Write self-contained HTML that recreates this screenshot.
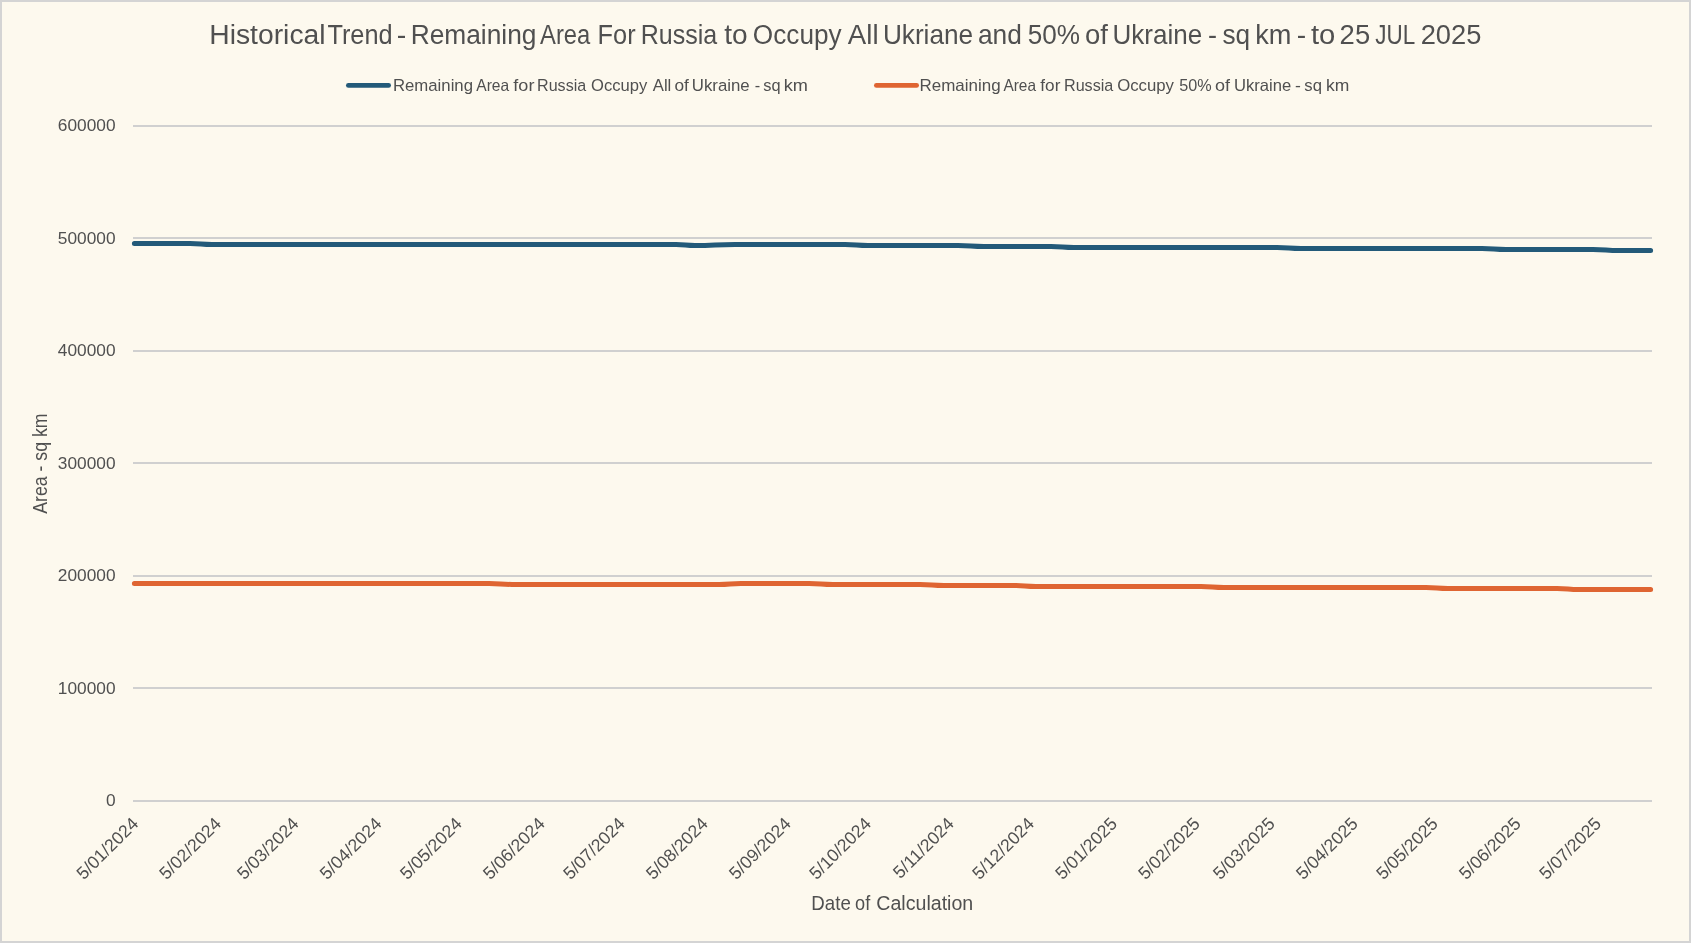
<!DOCTYPE html>
<html><head><meta charset="utf-8"><style>
html,body{margin:0;padding:0;width:1691px;height:943px;overflow:hidden;background:#D4D4D4;}
svg{display:block;will-change:transform;font-family:"Liberation Sans",sans-serif;}
</style></head><body>
<svg width="1691" height="943" viewBox="0 0 1691 943">
<rect x="0" y="0" width="1691" height="943" fill="#D4D4D4"/>
<rect x="2" y="2" width="1687" height="939" fill="#FDF9EE"/>
<g fill="#505050">
<text transform="translate(209.28,44.0) scale(1.0477,1)" font-size="27.0">Historical</text><text transform="translate(327.43,44.0) scale(0.9377,1)" font-size="27.0">Trend</text><text transform="translate(396.63,44.0) scale(1.0614,1)" font-size="27.0">-</text><text transform="translate(410.64,44.0) scale(0.9759,1)" font-size="27.0">Remaining</text><text transform="translate(540.05,44.0) scale(0.881,1)" font-size="27.0">Area</text><text transform="translate(597.62,44.0) scale(0.9382,1)" font-size="27.0">For</text><text transform="translate(640.75,44.0) scale(0.9263,1)" font-size="27.0">Russia</text><text transform="translate(724.28,44.0) scale(1.0392,1)" font-size="27.0">to</text><text transform="translate(752.86,44.0) scale(0.97,1)" font-size="27.0">Occupy</text><text transform="translate(847.85,44.0) scale(1.0231,1)" font-size="27.0">All</text><text transform="translate(882.88,44.0) scale(0.9704,1)" font-size="27.0">Ukriane</text><text transform="translate(977.98,44.0) scale(0.9747,1)" font-size="27.0">and</text><text transform="translate(1027.65,44.0) scale(0.9673,1)" font-size="27.0">50%</text><text transform="translate(1084.95,44.0) scale(1.0175,1)" font-size="27.0">of</text><text transform="translate(1112.49,44.0) scale(0.9648,1)" font-size="27.0">Ukraine</text><text transform="translate(1208.0,44.0) scale(1.0008,1)" font-size="27.0">-</text><text transform="translate(1222.47,44.0) scale(0.9716,1)" font-size="27.0">sq</text><text transform="translate(1255.17,44.0) scale(1.0063,1)" font-size="27.0">km</text><text transform="translate(1296.64,44.0) scale(1.0463,1)" font-size="27.0">-</text><text transform="translate(1310.96,44.0) scale(1.0821,1)" font-size="27.0">to</text><text transform="translate(1339.62,44.0) scale(1.0166,1)" font-size="27.0">25</text><text transform="translate(1375.25,44.0) scale(0.8308,1)" font-size="27.0">JUL</text><text transform="translate(1420.63,44.0) scale(1.0109,1)" font-size="27.0">2025</text>
<text transform="translate(392.92,90.9) scale(1.0287,1)" font-size="16.3">Remaining</text><text transform="translate(476.27,90.9) scale(0.9564,1)" font-size="16.3">Area</text><text transform="translate(513.34,90.9) scale(1.1068,1)" font-size="16.3">for</text><text transform="translate(537.08,90.9) scale(0.9858,1)" font-size="16.3">Russia</text><text transform="translate(591.01,90.9) scale(1.0173,1)" font-size="16.3">Occupy</text><text transform="translate(652.77,90.9) scale(1.0239,1)" font-size="16.3">All</text><text transform="translate(674.38,90.9) scale(1.0592,1)" font-size="16.3">of</text><text transform="translate(691.8,90.9) scale(1.0316,1)" font-size="16.3">Ukraine</text><text transform="translate(754.67,90.9) scale(1.0047,1)" font-size="16.3">-</text><text transform="translate(763.24,90.9) scale(1.0051,1)" font-size="16.3">sq</text><text transform="translate(783.78,90.9) scale(1.1147,1)" font-size="16.3">km</text>
<text transform="translate(919.51,90.9) scale(1.042,1)" font-size="16.3">Remaining</text><text transform="translate(1003.47,90.9) scale(0.9448,1)" font-size="16.3">Area</text><text transform="translate(1040.36,90.9) scale(1.0528,1)" font-size="16.3">for</text><text transform="translate(1063.97,90.9) scale(0.992,1)" font-size="16.3">Russia</text><text transform="translate(1117.21,90.9) scale(1.0284,1)" font-size="16.3">Occupy</text><text transform="translate(1179.25,90.9) scale(0.9939,1)" font-size="16.3">50%</text><text transform="translate(1214.94,90.9) scale(1.1056,1)" font-size="16.3">of</text><text transform="translate(1233.92,90.9) scale(1.0205,1)" font-size="16.3">Ukraine</text><text transform="translate(1295.02,90.9) scale(1.08,1)" font-size="16.3">-</text><text transform="translate(1304.34,90.9) scale(1.0241,1)" font-size="16.3">sq</text><text transform="translate(1325.92,90.9) scale(1.0738,1)" font-size="16.3">km</text>
<text transform="translate(811.37,909.9) scale(0.9532,1)" font-size="19.6">Date</text><text transform="translate(855.04,909.9) scale(0.9258,1)" font-size="19.6">of</text><text transform="translate(876.3,909.9) scale(1.0,1)" font-size="19.6">Calculation</text>
<text transform="translate(47.1,513.8) rotate(-90) scale(0.9186,1)" font-size="19.3" stroke="#505050" stroke-width="0.0">Area - sq km</text>
</g>
<line x1="348.45" y1="85.4" x2="388.55" y2="85.4" stroke="#235A79" stroke-width="4.9" stroke-linecap="round"/>
<line x1="876.45" y1="85.4" x2="916.55" y2="85.4" stroke="#DF6532" stroke-width="4.9" stroke-linecap="round"/>
<g fill="#D0D0D0"><rect x="133" y="125" width="1519" height="2"/><rect x="133" y="237" width="1519" height="2"/><rect x="133" y="350" width="1519" height="2"/><rect x="133" y="462" width="1519" height="2"/><rect x="133" y="575" width="1519" height="2"/><rect x="133" y="687" width="1519" height="2"/><rect x="133" y="800" width="1519" height="2"/></g>
<g font-size="17.3" fill="#505050" text-anchor="end"><text x="115.5" y="130.90">600000</text><text x="115.5" y="243.85">500000</text><text x="115.5" y="355.80">400000</text><text x="115.5" y="468.85">300000</text><text x="115.5" y="580.80">200000</text><text x="115.5" y="693.85">100000</text><text x="115.5" y="805.95">0</text></g>
<g font-size="17.7" fill="#505050" text-anchor="end"><text transform="translate(134.85,820.3) rotate(-45)" x="0" y="6.37">5/01/2024</text><text transform="translate(217.75,820.3) rotate(-45)" x="0" y="6.37">5/02/2024</text><text transform="translate(295.31,820.3) rotate(-45)" x="0" y="6.37">5/03/2024</text><text transform="translate(378.21,820.3) rotate(-45)" x="0" y="6.37">5/04/2024</text><text transform="translate(458.44,820.3) rotate(-45)" x="0" y="6.37">5/05/2024</text><text transform="translate(541.34,820.3) rotate(-45)" x="0" y="6.37">5/06/2024</text><text transform="translate(621.57,820.3) rotate(-45)" x="0" y="6.37">5/07/2024</text><text transform="translate(704.48,820.3) rotate(-45)" x="0" y="6.37">5/08/2024</text><text transform="translate(787.38,820.3) rotate(-45)" x="0" y="6.37">5/09/2024</text><text transform="translate(867.61,820.3) rotate(-45)" x="0" y="6.37">5/10/2024</text><text transform="translate(950.51,820.3) rotate(-45)" x="0" y="6.37">5/11/2024</text><text transform="translate(1030.74,820.3) rotate(-45)" x="0" y="6.37">5/12/2024</text><text transform="translate(1113.64,820.3) rotate(-45)" x="0" y="6.37">5/01/2025</text><text transform="translate(1196.55,820.3) rotate(-45)" x="0" y="6.37">5/02/2025</text><text transform="translate(1271.43,820.3) rotate(-45)" x="0" y="6.37">5/03/2025</text><text transform="translate(1354.33,820.3) rotate(-45)" x="0" y="6.37">5/04/2025</text><text transform="translate(1434.56,820.3) rotate(-45)" x="0" y="6.37">5/05/2025</text><text transform="translate(1517.46,820.3) rotate(-45)" x="0" y="6.37">5/06/2025</text><text transform="translate(1597.69,820.3) rotate(-45)" x="0" y="6.37">5/07/2025</text></g>
<path d="M134.4,243.45 L190,243.45 C201.0,243.45 201.0,244.45 212,244.45 L676,244.45 C685.5,244.45 685.5,245.45 695,245.45 L695,245.45 C715.0,245.45 715.0,244.45 735,244.45 L845,244.45 C856.5,244.45 856.5,245.45 868,245.45 L958,245.45 C971.0,245.45 971.0,246.45 984,246.45 L1051,246.45 C1062.5,246.45 1062.5,247.45 1074,247.45 L1277,247.45 C1289.0,247.45 1289.0,248.45 1301,248.45 L1482,248.45 C1494.0,248.45 1494.0,249.45 1506,249.45 L1593,249.45 C1606.0,249.45 1606.0,250.5 1619,250.5 L1650.6,250.5" fill="none" stroke="#235A79" stroke-width="5.0" stroke-linecap="round" stroke-linejoin="round"/>
<path d="M134.4,583.4 L489,583.4 C500.5,583.4 500.5,584.4 512,584.4 L719,584.4 C730.0,584.4 730.0,583.4 741,583.4 L809,583.4 C821.0,583.4 821.0,584.4 833,584.4 L920,584.4 C932.0,584.4 932.0,585.4 944,585.4 L1014,585.4 C1025.0,585.4 1025.0,586.4 1036,586.4 L1201,586.4 C1212.5,586.4 1212.5,587.4 1224,587.4 L1426,587.4 C1437.0,587.4 1437.0,588.4 1448,588.4 L1557,588.4 C1568.0,588.4 1568.0,589.5 1579,589.5 L1650.6,589.5" fill="none" stroke="#DF6532" stroke-width="5.0" stroke-linecap="round" stroke-linejoin="round"/>
</svg>
</body></html>
